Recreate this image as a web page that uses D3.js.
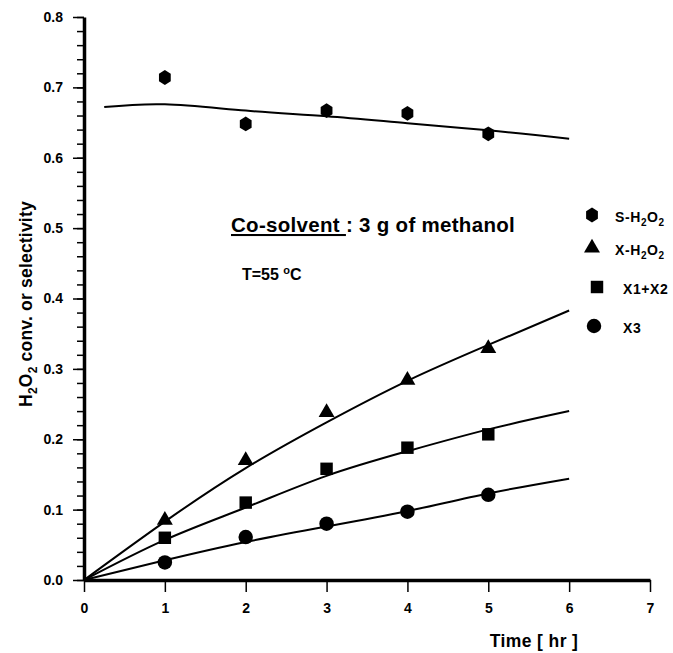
<!DOCTYPE html>
<html>
<head>
<meta charset="utf-8">
<script src="https://cdn.jsdelivr.net/npm/d3@7"></script>
<style>
  body { margin: 0; background: #fff; }
  svg { font-family: "Liberation Sans", Arial, sans-serif; }
</style>
</head>
<body>
<div id="chart"></div>
<script>
// measured points
const times = [1, 2, 3, 4, 5];
const selH2O2 = [0.714, 0.648, 0.667, 0.663, 0.634];
const convH2O2 = [0.085, 0.170, 0.238, 0.284, 0.329];
const x1x2 = [0.060, 0.110, 0.158, 0.188, 0.207];
const x3 = [0.025, 0.061, 0.080, 0.097, 0.121];

// fitted curves
const fitSelT = [0.25, 1, 2, 3, 4, 5, 6];
const fitSel = [0.672, 0.676, 0.667, 0.659, 0.649, 0.639, 0.627];
const fitT = [0, 1, 2, 3, 4, 5, 6];
const fitConv = [0, 0.083, 0.159, 0.224, 0.283, 0.334, 0.383];
const fitX1X2 = [0, 0.057, 0.103, 0.148, 0.183, 0.214, 0.240];
const fitX3 = [0, 0.028, 0.054, 0.076, 0.098, 0.123, 0.144];

const xTicks = [0, 1, 2, 3, 4, 5, 6, 7];
const yTicks = [0, 0.1, 0.2, 0.3, 0.4, 0.5, 0.6, 0.7, 0.8];
const legendNames = ["S-H2O2", "X-H2O2", "X1+X2", "X3"];

const W = 673, H = 653;
const svg = d3.select("#chart").append("svg")
    .attr("width", W)
    .attr("height", H);

const x = d3.scaleLinear().domain([0, 7]).range([84, 650]);
const y = d3.scaleLinear().domain([0, 0.8]).range([580, 17]);

// shapes
const hexPath = (r) => {
    const pts = d3.range(6).map(i => {
        const a = Math.PI / 2 + i * Math.PI / 3;
        return [r * 0.92 * Math.cos(a), -r * Math.sin(a)];
    });
    return "M" + pts.map(p => p.join(",")).join("L") + "Z";
};
const shapes = {
    hex: hexPath(7.4),
    tri: d3.symbol(d3.symbolTriangle, 110)(),
    sq: d3.symbol(d3.symbolSquare, 155)(),
    circ: d3.symbol(d3.symbolCircle, 165)()
};

// y axis: minor ticks then major
svg.append("g")
    .attr("transform", `translate(${x(0)},0)`)
    .call(d3.axisLeft(y).tickValues(d3.range(0, 0.801, 0.02)).tickSize(7).tickFormat("").tickSizeOuter(0))
    .call(g => g.select(".domain").remove())
    .call(g => g.selectAll("line").attr("stroke-width", 1.5));

const yAxis = svg.append("g")
    .attr("transform", `translate(${x(0)},0)`)
    .call(d3.axisLeft(y).tickValues(yTicks).tickSize(11).tickPadding(10)
        .tickFormat(d3.format(".1f")).tickSizeOuter(0));
yAxis.select(".domain").attr("stroke-width", 3.5);
yAxis.selectAll("line").attr("stroke-width", 1.5);
yAxis.selectAll("text").attr("font-size", 14).attr("font-weight", "bold")
    .attr("font-family", "Liberation Sans, Arial, sans-serif");

const xAxis = svg.append("g")
    .attr("transform", `translate(0,${y(0)})`)
    .call(d3.axisBottom(x).tickValues(xTicks).tickSize(12).tickPadding(11)
        .tickFormat(d3.format("d")).tickSizeOuter(0));
xAxis.select(".domain").attr("stroke-width", 3.5);
xAxis.selectAll("line").attr("stroke-width", 1.5);
xAxis.selectAll("text").attr("font-size", 14).attr("font-weight", "bold")
    .attr("font-family", "Liberation Sans, Arial, sans-serif");

// fitted lines
const line = d3.line()
    .x(d => x(d[0]))
    .y(d => y(d[1]))
    .curve(d3.curveNatural);

const fits = [
    d3.zip(fitSelT, fitSel),
    d3.zip(fitT, fitConv),
    d3.zip(fitT, fitX1X2),
    d3.zip(fitT, fitX3)
];
svg.selectAll(".fit")
    .data(fits)
    .join("path")
    .attr("class", "fit")
    .attr("d", line)
    .attr("fill", "none")
    .attr("stroke", "#000")
    .attr("stroke-width", 2);

// markers
const series = [
    { shape: "hex", vals: selH2O2 },
    { shape: "tri", vals: convH2O2 },
    { shape: "sq", vals: x1x2 },
    { shape: "circ", vals: x3 }
];
series.forEach(s => {
    svg.append("g").selectAll("path")
        .data(d3.zip(times, s.vals))
        .join("path")
        .attr("d", shapes[s.shape])
        .attr("transform", d => `translate(${x(d[0])},${y(d[1])})`)
        .attr("fill", "#000");
});

// legend
const legendPos = [
    { mx: 592, my: 215, tx: 615, ty: 222 },
    { mx: 592, my: 248, tx: 615, ty: 255 },
    { mx: 597, my: 287, tx: 623, ty: 294 },
    { mx: 594, my: 326, tx: 623, ty: 333 }
];
legendNames.forEach((name, i) => {
    const p = legendPos[i];
    svg.append("path")
        .attr("d", shapes[series[i].shape])
        .attr("transform", `translate(${p.mx},${p.my})`)
        .attr("fill", "#000");
    const t = svg.append("text")
        .attr("x", p.tx).attr("y", p.ty)
        .attr("font-size", 14).attr("font-weight", "bold")
        .attr("letter-spacing", 0.6);
    const m = name.match(/^(.*)H2O2$/);
    if (m) {
        t.append("tspan").text(m[1] + "H");
        t.append("tspan").text("2").attr("font-size", 10).attr("dy", 4);
        t.append("tspan").text("O").attr("dy", -4);
        t.append("tspan").text("2").attr("font-size", 10).attr("dy", 4);
    } else {
        t.text(name);
    }
});

// annotations
const note = svg.append("text")
    .attr("x", 231).attr("y", 232)
    .attr("font-size", 20.5).attr("font-weight", "bold")
    .attr("letter-spacing", 0.3);
note.append("tspan").text("Co-solvent ").attr("text-decoration", "underline");
note.append("tspan").text(": 3 g of methanol");

const temp = svg.append("text")
    .attr("x", 242).attr("y", 280)
    .attr("font-size", 16).attr("font-weight", "bold");
temp.append("tspan").text("T=55 ");
temp.append("tspan").text("o").attr("font-size", 11).attr("dy", -6);
temp.append("tspan").text("C").attr("dy", 6);

// axis titles
svg.append("text")
    .attr("x", 534).attr("y", 647)
    .attr("text-anchor", "middle")
    .attr("font-size", 17.5).attr("font-weight", "bold")
    .attr("letter-spacing", 0.4)
    .text("Time [ hr ]");

const yl = svg.append("text")
    .attr("transform", "translate(32,304) rotate(-90)")
    .attr("text-anchor", "middle")
    .attr("font-size", 17.5).attr("font-weight", "bold")
    .attr("letter-spacing", 0.2);
yl.append("tspan").text("H");
yl.append("tspan").text("2").attr("font-size", 12).attr("dy", 5);
yl.append("tspan").text("O").attr("dy", -5);
yl.append("tspan").text("2").attr("font-size", 12).attr("dy", 5);
yl.append("tspan").text(" conv. or selectivity").attr("dy", -5);
</script>
</body>
</html>
